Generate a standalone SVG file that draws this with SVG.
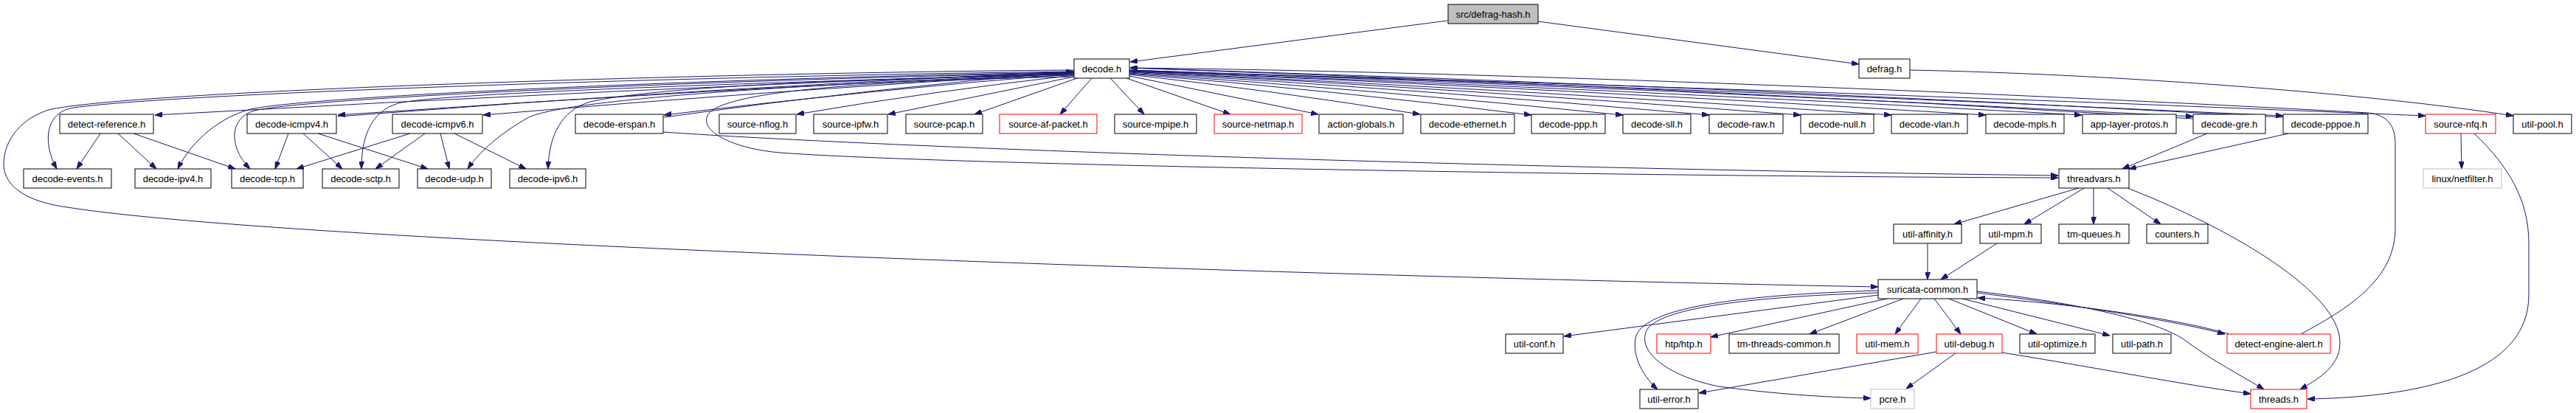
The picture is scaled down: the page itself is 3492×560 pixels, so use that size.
<svg xmlns="http://www.w3.org/2000/svg" width="3492" height="560" viewBox="0 0 3492 560">
<style>
rect{fill:#fff;stroke:#000;stroke-width:1}
.r rect{stroke:#ff0000}
.g rect{stroke:#bfbfbf}
.root rect{fill:#bfbfbf}
text{font-family:"Liberation Sans",Arial,sans-serif;font-size:13px;text-anchor:middle;fill:#000}
#edges path{fill:none;stroke:#191970;stroke-width:1;marker-end:url(#ah)}
</style>
<defs>
<marker id="ah" markerUnits="userSpaceOnUse" viewBox="0 0 10 7" refX="10" refY="3.5" markerWidth="10" markerHeight="7" orient="auto">
<path d="M0,0 L10,3.5 L0,7 z" fill="#191970" stroke="#191970"/>
</marker>
</defs>
<rect x="0" y="0" width="3492" height="560" style="fill:#fff;stroke:none"/>
<g id="edges">
<path d="M1962,28 L1532,84"/>
<path d="M2085,29 L2520,87"/>
<path d="M2589,95 C2850,100 3200,125 3407,157"/>
<path d="M1480,106 L1437,155"/>
<path d="M1505,106 L1551,155"/>
<path d="M1527,106 L1668,155"/>
<path d="M1531,103 L1787,155"/>
<path d="M1531,101 Q1728,123 1925,155"/>
<path d="M1531,100 Q1803,122 2076,156"/>
<path d="M1531,99 Q1865,122 2200,156"/>
<path d="M1531,98 Q1924,121 2317,156"/>
<path d="M1531,97 Q1986,121 2441,156"/>
<path d="M1531,97 Q2047,121 2564,156"/>
<path d="M1531,96 Q2111,120 2692,156"/>
<path d="M1531,96 Q2176,120 2822,156"/>
<path d="M1531,95 Q2252,120 2973,158"/>
<path d="M1531,95 Q2313,120 3095,157"/>
<path d="M1531,96 Q2410,120 3288,157"/>
<path d="M2973,161 Q2252,117 1532,92"/>
<path d="M3095,159 Q2313,116 1532,92"/>
<path d="M3119,453 C3180,420 3247,380 3247,310 L3247,195 C3247,172 3238,156 3210,153 C2700,125 2000,97 1532,92"/>
<path d="M1460,106 L1321,155"/>
<path d="M1456,104 L1204,155"/>
<path d="M1456,102 Q1268,123 1080,155"/>
<path d="M1456,100 Q1178,122 900,156"/>
<path d="M900,159 Q1178,120 1455,97"/>
<path d="M1456,99 Q1055,122 655,156"/>
<path d="M1456,99 Q957,121 458,156"/>
<path d="M458,158 Q957,119 1455,97"/>
<path d="M1456,98 Q833,121 210,156"/>
<path d="M1456,97 C1000,102 250,125 100,146 C60,152 58,195 77,229"/>
<path d="M1456,95 C1000,98 200,122 70,148 C30,158 5,190 5,222 C5,255 40,274 91,281 C400,330 1800,375 2546,389"/>
<path d="M1456,98 C1000,105 420,130 340,148 C300,158 260,190 241,229"/>
<path d="M1456,99 C1000,107 420,132 345,150 C310,160 310,200 339,229"/>
<path d="M1456,100 C1100,110 600,125 540,140 C500,152 490,190 490,229"/>
<path d="M1456,102 C1100,112 760,135 715,160 C680,180 650,205 634,229"/>
<path d="M1456,101 C1100,108 880,120 800,138 C760,150 744,185 743,229"/>
<path d="M1456,104 C1150,110 1000,125 965,150 C940,170 980,200 1057,207 C1300,225 2300,240 2790,241"/>
<path d="M899,179 C1200,200 2000,228 2790,238"/>
<path d="M2992,181 L2877,229"/>
<path d="M3102,181 L2886,229"/>
<path d="M2818,255 L2649,304"/>
<path d="M2825,255 L2744,304"/>
<path d="M2838,255 L2838,304"/>
<path d="M2857,255 L2929,304"/>
<path d="M2884,255 C3000,300 3150,380 3170,450 C3180,490 3150,510 3118,528"/>
<path d="M3336,181 L3337,229"/>
<path d="M3354,181 C3400,225 3428,270 3428,330 L3428,400 C3428,500 3300,538 3128,541"/>
<path d="M2613,330 L2613,379"/>
<path d="M2707,330 L2631,379"/>
<path d="M2546,400 L2120,456"/>
<path d="M2558,405 L2319,457"/>
<path d="M2580,405 L2453,453"/>
<path d="M2604,405 L2569,453"/>
<path d="M2622,405 L2658,453"/>
<path d="M2642,405 L2761,453"/>
<path d="M2660,405 L2860,455"/>
<path d="M2680,397 C2800,412 2950,435 3016,453"/>
<path d="M3022,453 C2950,432 2800,410 2681,404"/>
<path d="M2680,395 C2850,415 2930,440 2960,460 C3000,490 3040,510 3069,528"/>
<path d="M2546,394 C2350,400 2232,418 2218,455 C2210,485 2232,515 2247,528"/>
<path d="M2546,397 C2350,403 2255,420 2234,445 C2215,475 2260,510 2330,524 C2420,536 2490,539 2536,540"/>
<path d="M2625,477 L2303,533"/>
<path d="M2651,479 L2584,527"/>
<path d="M2714,478 C2850,500 2950,520 3051,534"/>
<path d="M136,181 L104,229"/>
<path d="M160,181 L212,229"/>
<path d="M181,181 L319,229"/>
<path d="M391,181 L373,229"/>
<path d="M411,181 L464,229"/>
<path d="M431,181 L580,229"/>
<path d="M556,181 L402,229"/>
<path d="M576,181 L509,229"/>
<path d="M597,181 L609,229"/>
<path d="M616,181 L713,229"/>
</g>
<g id="n_root" class="root"><rect x="1963" y="6" width="122" height="26"/><text x="2024" y="23.5">src/defrag-hash.h</text></g>
<g id="n_decode"><rect x="1456" y="80" width="75" height="26"/><text x="1493.5" y="97.5">decode.h</text></g>
<g id="n_defrag"><rect x="2520" y="80" width="69" height="26"/><text x="2554.5" y="97.5">defrag.h</text></g>
<g id="n_detect_reference"><rect x="81" y="155" width="127" height="26"/><text x="144.5" y="172.5">detect-reference.h</text></g>
<g id="n_decode_icmpv4"><rect x="335" y="155" width="121" height="26"/><text x="395.5" y="172.5">decode-icmpv4.h</text></g>
<g id="n_decode_icmpv6"><rect x="532" y="155" width="122" height="26"/><text x="593" y="172.5">decode-icmpv6.h</text></g>
<g id="n_decode_erspan"><rect x="780" y="155" width="119" height="26"/><text x="839.5" y="172.5">decode-erspan.h</text></g>
<g id="n_source_nflog"><rect x="975" y="155" width="104" height="26"/><text x="1027" y="172.5">source-nflog.h</text></g>
<g id="n_source_ipfw"><rect x="1103" y="155" width="100" height="26"/><text x="1153" y="172.5">source-ipfw.h</text></g>
<g id="n_source_pcap"><rect x="1228" y="155" width="104" height="26"/><text x="1280" y="172.5">source-pcap.h</text></g>
<g id="n_source_af_packet" class="r"><rect x="1355" y="155" width="132" height="26"/><text x="1421" y="172.5">source-af-packet.h</text></g>
<g id="n_source_mpipe"><rect x="1511" y="155" width="111" height="26"/><text x="1566.5" y="172.5">source-mpipe.h</text></g>
<g id="n_source_netmap" class="r"><rect x="1646" y="155" width="119" height="26"/><text x="1705.5" y="172.5">source-netmap.h</text></g>
<g id="n_action_globals"><rect x="1788" y="155" width="114" height="26"/><text x="1845" y="172.5">action-globals.h</text></g>
<g id="n_decode_ethernet"><rect x="1926" y="155" width="127" height="26"/><text x="1989.5" y="172.5">decode-ethernet.h</text></g>
<g id="n_decode_ppp"><rect x="2076" y="155" width="100" height="26"/><text x="2126" y="172.5">decode-ppp.h</text></g>
<g id="n_decode_sll"><rect x="2200" y="155" width="92" height="26"/><text x="2246" y="172.5">decode-sll.h</text></g>
<g id="n_decode_raw"><rect x="2317" y="155" width="100" height="26"/><text x="2367" y="172.5">decode-raw.h</text></g>
<g id="n_decode_null"><rect x="2441" y="155" width="99" height="26"/><text x="2490.5" y="172.5">decode-null.h</text></g>
<g id="n_decode_vlan"><rect x="2564" y="155" width="103" height="26"/><text x="2615.5" y="172.5">decode-vlan.h</text></g>
<g id="n_decode_mpls"><rect x="2692" y="155" width="106" height="26"/><text x="2745" y="172.5">decode-mpls.h</text></g>
<g id="n_app_layer_protos"><rect x="2823" y="155" width="127" height="26"/><text x="2886.5" y="172.5">app-layer-protos.h</text></g>
<g id="n_decode_gre"><rect x="2973" y="155" width="98" height="26"/><text x="3022" y="172.5">decode-gre.h</text></g>
<g id="n_decode_pppoe"><rect x="3095" y="155" width="115" height="26"/><text x="3152.5" y="172.5">decode-pppoe.h</text></g>
<g id="n_source_nfq" class="r"><rect x="3288" y="155" width="95" height="26"/><text x="3335.5" y="172.5">source-nfq.h</text></g>
<g id="n_util_pool"><rect x="3407" y="155" width="79" height="26"/><text x="3446.5" y="172.5">util-pool.h</text></g>
<g id="n_decode_events"><rect x="32" y="229" width="119" height="26"/><text x="91.5" y="246.5">decode-events.h</text></g>
<g id="n_decode_ipv4"><rect x="183" y="229" width="103" height="26"/><text x="234.5" y="246.5">decode-ipv4.h</text></g>
<g id="n_decode_tcp"><rect x="314" y="229" width="97" height="26"/><text x="362.5" y="246.5">decode-tcp.h</text></g>
<g id="n_decode_sctp"><rect x="437" y="229" width="104" height="26"/><text x="489" y="246.5">decode-sctp.h</text></g>
<g id="n_decode_udp"><rect x="566" y="229" width="100" height="26"/><text x="616" y="246.5">decode-udp.h</text></g>
<g id="n_decode_ipv6"><rect x="691" y="229" width="103" height="26"/><text x="742.5" y="246.5">decode-ipv6.h</text></g>
<g id="n_threadvars"><rect x="2791" y="229" width="95" height="26"/><text x="2838.5" y="246.5">threadvars.h</text></g>
<g id="n_linux_netfilter" class="g"><rect x="3285" y="229" width="106" height="26"/><text x="3338" y="246.5">linux/netfilter.h</text></g>
<g id="n_util_affinity"><rect x="2567" y="304" width="92" height="26"/><text x="2613" y="321.5">util-affinity.h</text></g>
<g id="n_util_mpm"><rect x="2684" y="304" width="83" height="26"/><text x="2725.5" y="321.5">util-mpm.h</text></g>
<g id="n_tm_queues"><rect x="2791" y="304" width="95" height="26"/><text x="2838.5" y="321.5">tm-queues.h</text></g>
<g id="n_counters"><rect x="2910" y="304" width="83" height="26"/><text x="2951.5" y="321.5">counters.h</text></g>
<g id="n_suricata_common"><rect x="2546" y="379" width="134" height="26"/><text x="2613" y="396.5">suricata-common.h</text></g>
<g id="n_util_conf"><rect x="2041" y="453" width="78" height="26"/><text x="2080" y="470.5">util-conf.h</text></g>
<g id="n_htp" class="r"><rect x="2246" y="453" width="73" height="26"/><text x="2282.5" y="470.5">htp/htp.h</text></g>
<g id="n_tm_threads_common"><rect x="2344" y="453" width="149" height="26"/><text x="2418.5" y="470.5">tm-threads-common.h</text></g>
<g id="n_util_mem" class="r"><rect x="2517" y="453" width="83" height="26"/><text x="2558.5" y="470.5">util-mem.h</text></g>
<g id="n_util_debug" class="r"><rect x="2625" y="453" width="89" height="26"/><text x="2669.5" y="470.5">util-debug.h</text></g>
<g id="n_util_optimize"><rect x="2738" y="453" width="102" height="26"/><text x="2789" y="470.5">util-optimize.h</text></g>
<g id="n_util_path"><rect x="2864" y="453" width="79" height="26"/><text x="2903.5" y="470.5">util-path.h</text></g>
<g id="n_detect_engine_alert" class="r"><rect x="3019" y="453" width="140" height="26"/><text x="3089" y="470.5">detect-engine-alert.h</text></g>
<g id="n_util_error"><rect x="2223" y="528" width="79" height="26"/><text x="2262.5" y="545.5">util-error.h</text></g>
<g id="n_pcre" class="g"><rect x="2536" y="528" width="59" height="26"/><text x="2565.5" y="545.5">pcre.h</text></g>
<g id="n_threads" class="r"><rect x="3051" y="528" width="76" height="26"/><text x="3089" y="545.5">threads.h</text></g>
</svg>
